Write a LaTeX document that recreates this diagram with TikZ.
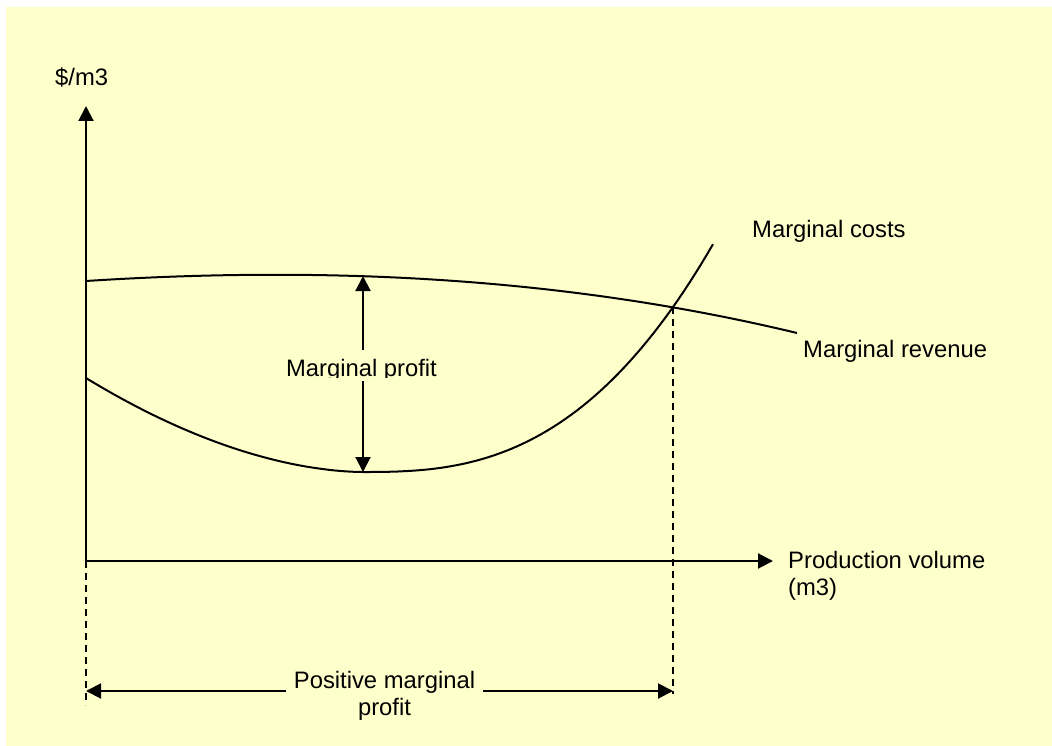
\documentclass[tikz,border=0pt]{standalone}
\usepackage{fontspec}
\setmainfont{Liberation Sans}
\usetikzlibrary{arrows.meta}
\definecolor{bgyellow}{HTML}{FFFFCC}
\begin{document}
\begin{tikzpicture}[x=1pt,y=-1pt,
  curve/.style={line width=2pt},
  axis/.style={line width=2pt,-{Triangle[length=15pt,width=15pt]}},
  both/.style={line width=2pt,{Triangle[length=15pt,width=15pt]}-{Triangle[length=15pt,width=15pt]}},
  guide/.style={line width=1.8pt,dash pattern=on 7pt off 5pt},
  lbl/.style={font=\fontsize{23.8}{27}\selectfont, inner sep=0pt}]
\useasboundingbox (0,0) rectangle (1052,746);
\fill[white] (0,0) rectangle (1052,746);
\fill[bgyellow] (6,7) rectangle (1052,746);

% coordinates
\coordinate (O) at (86,561);
\coordinate (ytip) at (86,106);
\coordinate (xtip) at (773,561);
\coordinate (lowL) at (86,705);
\coordinate (X) at (673,307);
\coordinate (lowR) at (673,694);
\coordinate (pL) at (86,691);
\coordinate (pR) at (673,691);
\coordinate (mTop) at (363,276);
\coordinate (mBot) at (363,472);

% axes
\draw[axis] (O) -- (ytip);
\draw[axis] (O) -- (xtip);
\draw[guide] (O) -- (lowL);
\draw[guide] (X) -- (lowR);

% marginal revenue curve
\draw[curve] (86,281) .. controls (320,266) and (560,276) .. (797,333);
% marginal cost curve
\draw[curve] plot[domain=86:363, samples=50] (\x, {472 - 94*((363-\x)/277)^1.8})
  -- plot[domain=364:713, samples=60] (\x, {472 - 165*((\x-363)/310)^2.66});

% marginal profit arrow
\draw[both] (mTop) -- (mBot);
\fill[bgyellow] (280,350) rectangle (445,381);
\begin{scope}
\clip (280,350) rectangle (445,377);
\node[lbl, anchor=base] (mp) at (361.5,376) {Marginal profit};
\end{scope}

% positive marginal profit
\draw[both] (pL) -- (pR);
\node[lbl, anchor=north, align=center, fill=bgyellow, inner xsep=8pt] (pmp) at (384.5,670.6) {Positive marginal\\profit};

% labels
\node[lbl, anchor=base west] (ylab) at (55,86) {\$/m3};
\node[lbl, anchor=north west, align=left] (xlab) at (788,550.6) {Production volume\\(m3)};
\node[lbl, anchor=base west] (mc) at (752,237) {Marginal costs};
\node[lbl, anchor=base west] (mr) at (803,357) {Marginal revenue};
\end{tikzpicture}
\end{document}
